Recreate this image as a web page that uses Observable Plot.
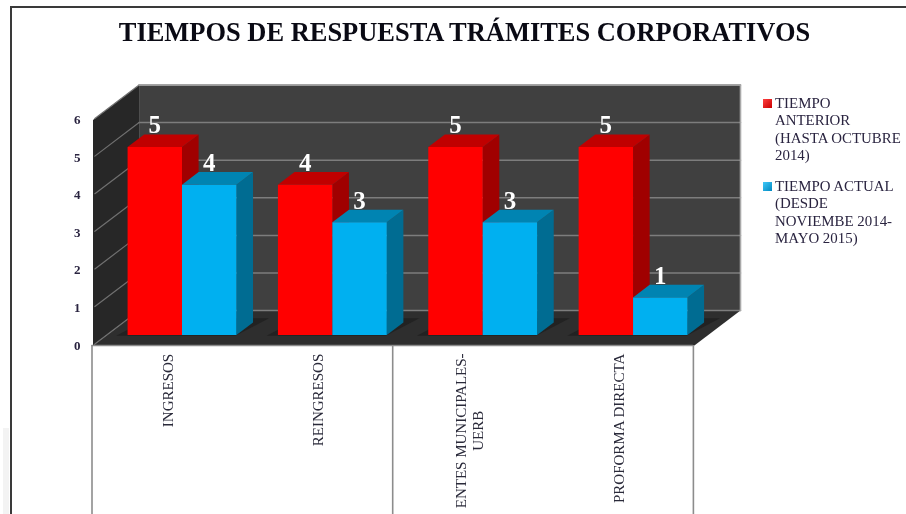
<!DOCTYPE html>
<html><head><meta charset="utf-8">
<script src="https://cdn.jsdelivr.net/npm/d3@7"></script>
<script src="https://cdn.jsdelivr.net/npm/@observablehq/plot@0.6"></script>
<style>
html,body{margin:0;padding:0;background:#fff;}
#page{position:relative;width:906px;height:514px;overflow:hidden;font-family:"Liberation Serif",serif;filter:blur(0.7px);}
#frame{position:absolute;left:10px;top:6px;width:910px;height:520px;border:2px solid #3a3a3a;box-sizing:border-box;}
#patch{position:absolute;left:3px;top:428px;width:6px;height:90px;background:#f3f3f3;}
#title{position:absolute;left:0;width:929px;top:17px;text-align:center;font-weight:bold;font-size:26.45px;color:#0a0a14;white-space:nowrap;}
.leg{position:absolute;left:775px;font-size:14.9px;line-height:17.4px;color:#2a2440;white-space:nowrap;}
.sw{position:absolute;left:763px;width:9px;height:9px;}
#chart{position:absolute;left:0;top:0;}
#chart svg{overflow:visible;display:block;}
</style></head><body>
<div id="page">
<div id="patch"></div>
<div id="frame"></div>
<div id="chart"></div>
<div id="title">TIEMPOS DE RESPUESTA TRÁMITES CORPORATIVOS</div>
<div class="sw" style="top:99px;background:linear-gradient(135deg,#ff4040,#c80000)"></div>
<div class="leg" style="top:95px">TIEMPO<br>ANTERIOR<br>(HASTA OCTUBRE<br>2014)</div>
<div class="sw" style="top:182px;background:linear-gradient(135deg,#40c8f8,#0088c0)"></div>
<div class="leg" style="top:178px">TIEMPO ACTUAL<br>(DESDE<br>NOVIEMBE 2014-<br>MAYO 2015)</div>
</div>
<script>
const categories = ["INGRESOS", "REINGRESOS", "ENTES MUNICIPALES-\nUERB", "PROFORMA DIRECTA"];
const tiempoAnterior = [5, 4, 5, 5];
const tiempoActual = [4, 3, 3, 1];
const yTicks = [0, 1, 2, 3, 4, 5, 6];

const depthX = 46 / 150;          // depth of the box, in category units
const depthY = 35 / 37.67;        // depth of the box, in value units
const barWidth = 0.362;
const d0 = 0.30, d1 = 0.66;       // bar front and back, as a share of the depth
const proj = (x, v, d) => ({x: x + d * depthX, y: v + d * depthY});
const poly = (id, fill, pts) => pts.map(([x, v, d]) => ({...proj(x, v, d), id, fill}));

const series = [
  {values: tiempoAnterior, off: -1, front: "#ff0000", top: "#c00000", side: "#a00000"},
  {values: tiempoActual, off: 0, front: "#00b0f0", top: "#0084b2", side: "#006c92"}
];

const W = 4;
const walls = [
  ...poly("back", "#404040", [[0,0,1],[W,0,1],[W,6,1],[0,6,1]]),
  ...poly("left", "#272727", [[0,0,0],[0,0,1],[0,6,1],[0,6,0]]),
  ...poly("floor", "#2e2e2e", [[0,0,0],[W,0,0],[W,0,1],[0,0,1]])
];
const gridBack = yTicks.flatMap(v => [{...proj(0,v,1), v},{...proj(W,v,1), v}]);
const gridLeft = yTicks.flatMap(v => [{...proj(0,v,0.04), v},{...proj(0,v,1), v}]);
const outline = [proj(0,6,1), proj(W,6,1), proj(W,0,1)];

const shadows = [], faces = [], labels = [];
categories.forEach((c, i) => {
  const cx = i + 0.5;
  shadows.push(...poly("s"+i, "#222222", [
    [cx - barWidth - 0.07, 0, d0 - 0.02],
    [cx + barWidth, 0, d0 - 0.02],
    [cx + barWidth + 0.07, 0, d1 + 0.12],
    [cx - barWidth + 0.0, 0, d1 + 0.12]
  ]));
  series.forEach((s, k) => {
    const l = cx + s.off * barWidth, r = l + barWidth, v = s.values[i], id = i + "-" + k;
    faces.push(
      ...poly(id+"side", s.side, [[r,0,d0],[r,0,d1],[r,v,d1],[r,v,d0]]),
      ...poly(id+"top", s.top, [[l,v,d0],[r,v,d0],[r,v,d1],[l,v,d1]]),
      ...poly(id+"front", s.front, [[l,0,d0],[r,0,d0],[r,v,d0],[l,v,d0]])
    );
    labels.push({...proj(l + barWidth / 2, v, d1), x: proj(l + barWidth / 2, v, d0).x, v});
  });
});

const catRows = categories.map((c, i) => ({c, x: i + 0.5}));
const serif = "Liberation Serif";

const chart = Plot.plot({
  width: 906, height: 514,
  marginLeft: 92.5, marginRight: 166, marginTop: 84.5, marginBottom: 169,
  x: {domain: [0, W + depthX], axis: null},
  y: {domain: [0, 6 + depthY], axis: null},
  style: {background: "transparent", fontFamily: serif},
  marks: [
    Plot.line(walls, {x: "x", y: "y", z: "id", fill: "fill", stroke: "none"}),
    Plot.line(gridBack, {x: "x", y: "y", z: "v", stroke: "#7d7d7d", strokeWidth: 1.5}),
    Plot.line(gridLeft, {x: "x", y: "y", z: "v", stroke: "#707070", strokeWidth: 1.2}),
    Plot.line(outline, {x: "x", y: "y", stroke: "#a8a8a8", strokeWidth: 1.6}),
    Plot.line(shadows, {x: "x", y: "y", z: "id", fill: "fill", stroke: "none"}),
    Plot.line(faces, {x: "x", y: "y", z: "id", fill: "fill", stroke: "none"}),
    Plot.ruleY([0], {x1: 0, x2: W, stroke: "#8c8c8c", strokeWidth: 1.6, dx: -1}),
    Plot.ruleX([0, 2, 4], {y1: 0, y2: -4.6, stroke: "#8c8c8c", strokeWidth: 1.6, dx: -1}),
    Plot.axisY({ticks: yTicks, tickSize: 0, tickPadding: 12.5, label: null, fontSize: 13, fontWeight: "bold",
      fill: "#2a2440", fontFamily: serif, tickFormat: d => String(d)}),
    Plot.text(labels, {x: "x", y: "y", text: d => String(d.v), fill: "white", stroke: "#3a3a3a", strokeWidth: 0.3,
      fontSize: 25, fontWeight: "bold", fontFamily: serif, lineAnchor: "bottom", dy: -1}),
    Plot.text(catRows.filter(d => !d.c.includes("\n")), {x: "x", y: -0.22, text: "c", rotate: -90, textAnchor: "end",
      fontSize: 15, fill: "#2a2a3a", fontFamily: serif}),
    Plot.text(catRows.filter(d => d.c.includes("\n")), {x: "x", y: -2.27, text: "c", rotate: -90, textAnchor: "middle",
      fontSize: 15, fill: "#2a2a3a", fontFamily: serif, lineHeight: 1.15})
  ]
});
document.getElementById("chart").append(chart);
</script>
</body></html>
